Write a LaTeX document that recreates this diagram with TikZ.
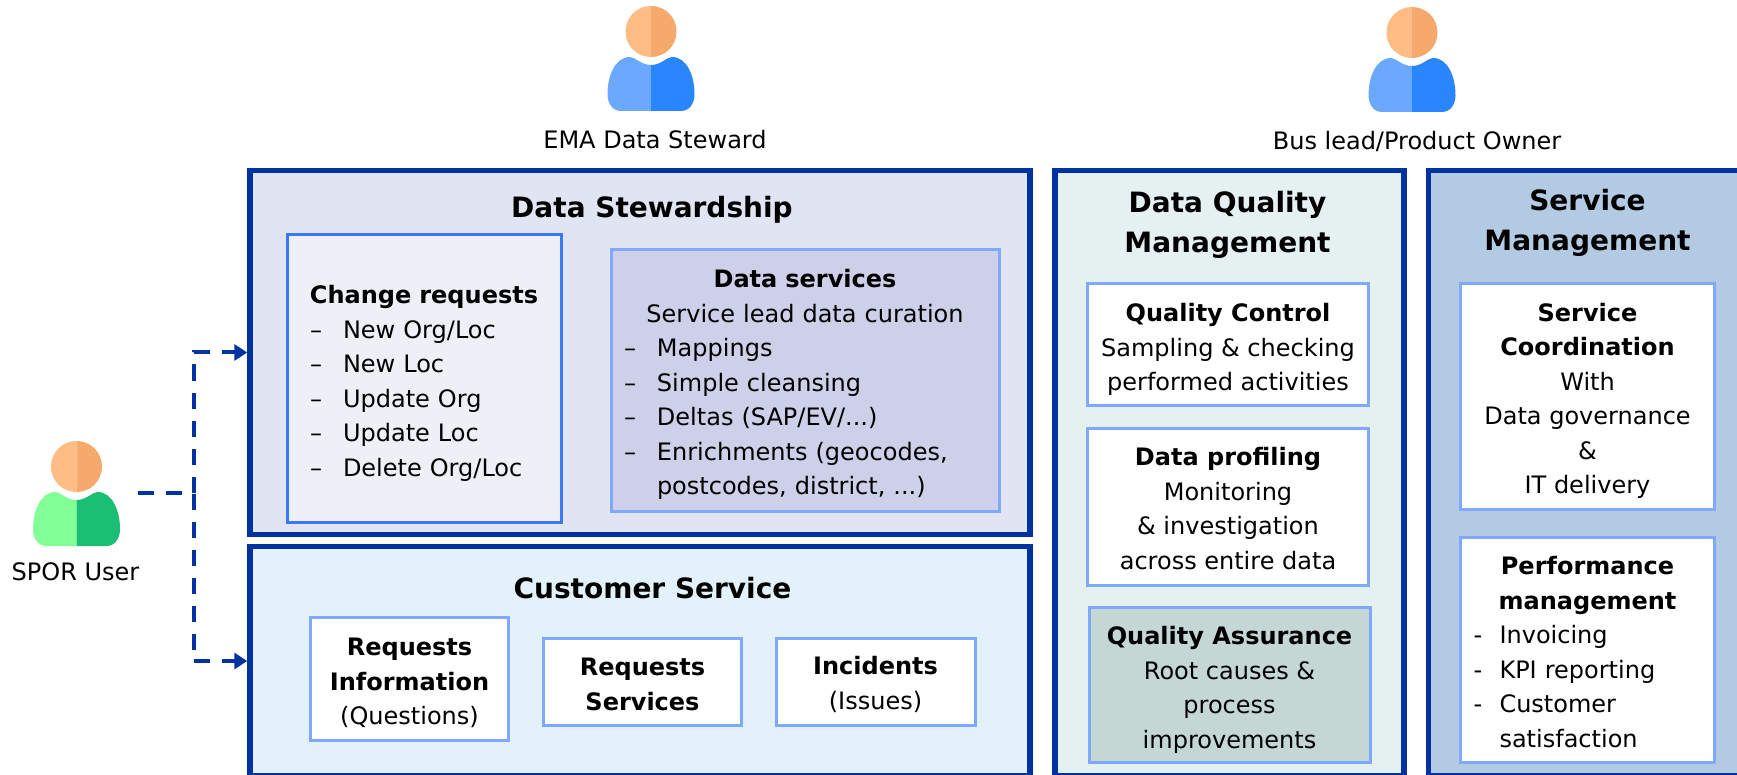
\documentclass[tikz,border=0pt]{standalone}
\usepackage{fontspec}
\setmainfont{DejaVu Sans}
\usetikzlibrary{arrows.meta}
\definecolor{panelblue}{HTML}{00339F}
\definecolor{innerblue}{HTML}{7FA8FF}
\definecolor{changeblue}{HTML}{3A78F5}
\definecolor{dsfill}{HTML}{E1E4F2}
\definecolor{csfill}{HTML}{E3F2FA}
\definecolor{dqfill}{HTML}{E5F1F0}
\definecolor{smfill}{HTML}{B3CAE3}
\definecolor{changefill}{HTML}{EEF0F8}
\definecolor{servfill}{HTML}{CDD0E8}
\definecolor{assurefill}{HTML}{C4D7D4}
\definecolor{headlight}{HTML}{FFBC85}
\definecolor{headdark}{HTML}{F5A96C}
\definecolor{bluelight}{HTML}{6AA9FF}
\definecolor{bluedark}{HTML}{2986FF}
\definecolor{greenlight}{HTML}{83FF97}
\definecolor{greendark}{HTML}{1BBF73}
\newcommand{\boxhead}[1]{\makebox[\hsize][c]{\textbf{#1}}}
\newcommand{\boxline}[1]{\makebox[\hsize][c]{#1}}
\newcommand{\dashitem}{\makebox[33pt][l]{–}}
\newcommand{\hyphitem}{\makebox[26pt][l]{-}}
\newcommand{\dropby}[1]{\rule{0pt}{\dimexpr 18pt+#1pt*2\relax}}
\tikzset{
    panel/.style={draw=panelblue, line width=5.5pt, inner sep=0pt},
    panelhead/.style={font=\fontsize{28}{40}\selectfont\bfseries, align=center},
    inner/.style={draw=innerblue, line width=3pt, fill=white, inner sep=0pt,
        font=\fontsize{24}{34.5}\selectfont, align=center},
    listbox/.style={inner, align=left},
    role/.style={font=\fontsize{24}{28}\selectfont},
    flow/.style={draw=panelblue, line width=4pt, dash pattern=on 16pt off 12pt},
    pics/person/.style 2 args={code={
        \fill[headlight] (0, 0) .. controls (-14, 0) and (-25.5, 11) .. (-25.5, 25.5) .. controls (-25.5, 40) and (-14, 51) .. (0, 51) -- cycle;
        \fill[headdark] (0, 0) .. controls (14, 0) and (25.5, 11) .. (25.5, 25.5) .. controls (25.5, 40) and (14, 51) .. (0, 51) -- cycle;
        \fill[#1] (0, 105) -- (-30, 105) .. controls (-38, 105) and (-43.5, 98) .. (-43.5, 88) .. controls (-43.5, 70) and (-36, 51) .. (-21, 51) .. controls (-16, 51) and (-10, 59) .. (0, 59) -- cycle;
        \fill[#2] (0, 105) -- (30, 105) .. controls (38, 105) and (43.5, 98) .. (43.5, 88) .. controls (43.5, 70) and (36, 51) .. (21, 51) .. controls (16, 51) and (10, 59) .. (0, 59) -- cycle;
    }}
}
\begin{document}
\begin{tikzpicture}[x=1pt, y=-1pt]
        \path[use as bounding box, clip] (0, 0) rectangle (1737, 775);

        \node[panel, fill=dsfill, minimum width=780pt, minimum height=364pt] (ds) at (640, 352.5) {};
        \node[panel, fill=csfill, minimum width=780pt, minimum height=229pt] (cs) at (640, 661) {};
        \node[panel, fill=dqfill, minimum width=349pt, minimum height=605pt] (dq) at (1229.5, 473) {};
        \node[panel, fill=smfill, minimum width=329pt, minimum height=605pt] (sm) at (1593, 473) {};

        \node[panelhead] (dshead) at (652, 210) {Data Stewardship};
        \node[panelhead] (cshead) at (652.5, 588) {Customer Service};
        \node[panelhead] (dqhead) at (1227.5, 224.5) {Data Quality\\Management};
        \node[panelhead] (smhead) at (1587.5, 223) {Service\\Management};

        \node[listbox, draw=changeblue, fill=changefill, inner xsep=23pt, text width=228pt, minimum height=288pt] (change) at (424, 378.5)
            {\dropby{5}\boxhead{Change requests}\\\dashitem New Org/Loc\\\dashitem New Loc\\\dashitem Update Org\\\dashitem Update Loc\\\dashitem Delete Org/Loc};
        \node[listbox, fill=servfill, inner xsep=13pt, text width=362pt, minimum height=262pt] (services) at (805, 380.5)
            {\dropby{4}\boxhead{Data services}\\\boxline{Service lead data curation}\\\dashitem Mappings\\\dashitem Simple cleansing\\\dashitem Deltas (SAP/EV/...)\\\dashitem Enrichments (geocodes,\\\hspace*{33pt}postcodes, district, ...)};

        \node[inner, minimum width=198pt, minimum height=123pt] (reqinfo) at (409.5, 679) {\dropby{4}\textbf{Requests}\\\textbf{Information}\\(Questions)};
        \node[inner, minimum width=198pt, minimum height=87pt] (reqserv) at (642.5, 682) {\dropby{2}\textbf{Requests}\\\textbf{Services}};
        \node[inner, minimum width=199pt, minimum height=87pt] (incidents) at (875.5, 682) {\dropby{2.5}\textbf{Incidents}\\(Issues)};

        \node[inner, minimum width=281pt, minimum height=122pt] (control) at (1228, 344.5) {\dropby{5}\textbf{Quality Control}\\Sampling \& checking\\performed activities};
        \node[inner, minimum width=281pt, minimum height=157pt] (profiling) at (1228, 506.5) {\dropby{2}\textbf{Data profiling}\\Monitoring\\\& investigation\\across entire data};
        \node[inner, fill=assurefill, minimum width=281pt, minimum height=155pt] (assurance) at (1229.5, 685) {\dropby{5}\textbf{Quality Assurance}\\Root causes \&\\process\\improvements};

        \node[inner, minimum width=254pt, minimum height=226pt] (coord) at (1587.5, 396.5) {\dropby{4.5}\textbf{Service}\\\textbf{Coordination}\\With\\Data governance\\\&\\IT delivery};
        \node[listbox, inner xsep=13pt, text width=228pt, minimum height=225pt] (perf) at (1587.5, 650)
            {\dropby{2}\boxhead{Performance}\\\boxhead{management}\\\hyphitem Invoicing\\\hyphitem KPI reporting\\\hyphitem Customer\\\hspace*{26pt}satisfaction};

        \pic (steward) at (651, 6) {person={bluelight}{bluedark}};
        \pic (owner) at (1412, 7) {person={bluelight}{bluedark}};
        \pic (user) at (76.5, 441) {person={greenlight}{greendark}};

        \node[role] (stewardname) at (655, 139.5) {EMA Data Steward};
        \node[role] (ownername) at (1417, 141.5) {Bus lead/Product Owner};
        \node[role] (username) at (75.5, 572) {SPOR User};

        \coordinate (userout) at (138, 493);
        \coordinate (branch) at (193.5, 493);

        \draw[flow, -{Triangle[length=13pt, width=16pt]}] (userout) -- (branch) |- (ds.west);
        \draw[flow, -{Triangle[length=13pt, width=16pt]}] (userout) -- (branch) |- (cs.west);
    \end{tikzpicture}
\end{document}
